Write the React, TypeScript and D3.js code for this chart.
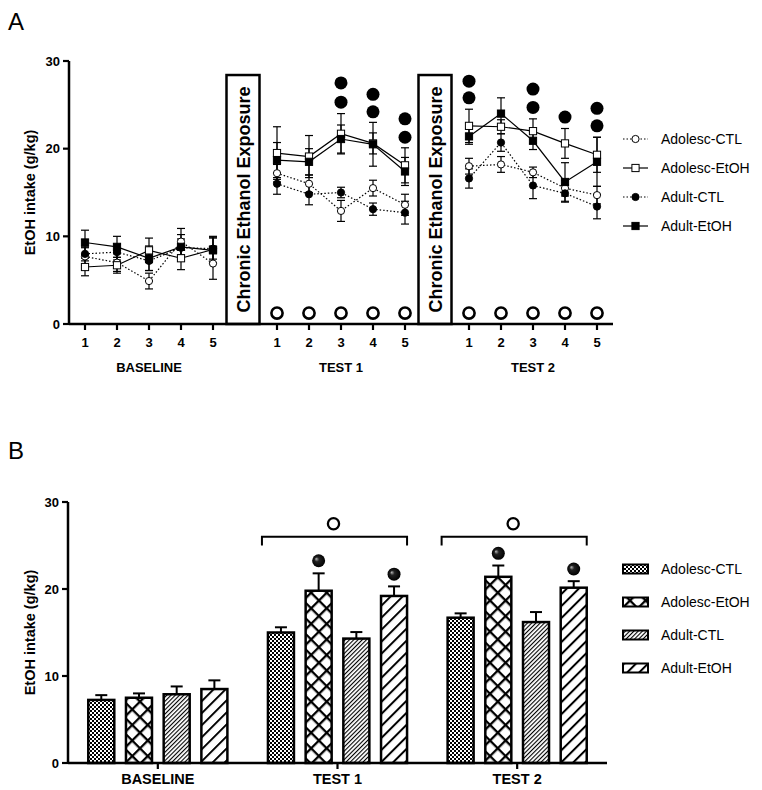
import React from "react";
import * as d3 from "d3";

const groups = ["Adolesc-CTL", "Adolesc-EtOH", "Adult-CTL", "Adult-EtOH"];
const phases = ["BASELINE", "TEST 1", "TEST 2"];
const days = [1, 2, 3, 4, 5];
const yTicks = [0, 10, 20, 30];

// Panel A: daily intake, 5 baseline days, 5 test-1 days, 5 test-2 days
const adolescCtlDaily = [7.7, 7.0, 4.9, 9.4, 6.9, 17.2, 16.0, 12.9, 15.5, 13.6, 18.0, 18.2, 17.3, 15.5, 14.7];
const adolescCtlDailyErr = [1.0, 1.0, 0.9, 1.5, 1.8, 1.0, 1.0, 1.2, 0.9, 1.2, 0.9, 0.9, 0.6, 0.9, 1.0];
const adolescEtohDaily = [6.5, 6.7, 8.4, 7.5, 8.5, 19.5, 19.1, 21.7, 20.6, 18.1, 22.6, 22.5, 22.0, 20.6, 19.3];
const adolescEtohDailyErr = [1.0, 0.9, 1.4, 1.3, 1.5, 3.0, 2.4, 2.3, 1.2, 2.0, 1.9, 0.8, 1.4, 1.7, 2.0];
const adultCtlDaily = [8.0, 8.2, 7.2, 8.7, 8.6, 16.0, 14.8, 15.0, 13.1, 12.7, 16.6, 20.7, 15.8, 14.9, 13.4];
const adultCtlDailyErr = [0.8, 0.9, 1.1, 1.0, 1.2, 1.2, 1.2, 0.6, 0.7, 1.3, 1.1, 1.0, 1.5, 1.0, 1.4];
const adultEtohDaily = [9.3, 8.8, 7.5, 8.8, 8.4, 18.7, 18.5, 21.1, 20.5, 17.4, 21.4, 24.0, 20.9, 16.2, 18.5];
const adultEtohDailyErr = [1.4, 1.2, 1.4, 1.4, 1.5, 2.0, 1.5, 1.6, 2.5, 1.6, 0.9, 1.8, 1.0, 2.2, 2.8];

// significance marks in panel A: [phase, day, height]
const sigFilledA = [
  [1, 3, 27.5], [1, 3, 25.3], [1, 4, 26.2], [1, 4, 24.2], [1, 5, 23.4], [1, 5, 21.3],
  [2, 1, 27.7], [2, 1, 25.8], [2, 3, 26.8], [2, 3, 24.7], [2, 4, 23.6], [2, 5, 24.6], [2, 5, 22.6],
];
const sigOpenA = [1, 2].flatMap((p) => days.map((d) => [p, d, 1.25]));

// Panel B: phase means
const adolescCtlMean = [7.25, 15.0, 16.7];
const adolescCtlErr = [0.55, 0.6, 0.5];
const adolescEtohMean = [7.5, 19.8, 21.4];
const adolescEtohErr = [0.5, 2.0, 1.3];
const adultCtlMean = [7.9, 14.3, 16.2];
const adultCtlErr = [0.9, 0.75, 1.15];
const adultEtohMean = [8.5, 19.2, 20.15];
const adultEtohErr = [1.0, 1.1, 0.75];

// filled marks above bars: [phase, group, height]; open marks above brackets
const sigFilledB = [[1, 1, 23.25], [1, 3, 21.7], [2, 1, 24.1], [2, 3, 22.3]];
const sigOpenB = [[1, 27.5], [2, 27.5]];
const bracketLevel = 26;

const dailyMeans = [adolescCtlDaily, adolescEtohDaily, adultCtlDaily, adultEtohDaily];
const dailyErrs = [adolescCtlDailyErr, adolescEtohDailyErr, adultCtlDailyErr, adultEtohDailyErr];
const barMeans = [adolescCtlMean, adolescEtohMean, adultCtlMean, adultEtohMean];
const barErrs = [adolescCtlErr, adolescEtohErr, adultCtlErr, adultEtohErr];
const fills = ["url(#checker)", "url(#cross)", "url(#fineDiag)", "url(#wideDiag)"];

const FONT = "'Liberation Sans', Arial, Helvetica, sans-serif";

function Marker({ g, x, y }) {
  const r = 3.6;
  const filled = g >= 2;
  const fill = filled ? "black" : "white";
  if (g % 2 === 0) return <circle cx={x} cy={y} r={r} fill={fill} stroke="black" strokeWidth={1} />;
  return <rect x={x - r} y={y - r} width={r * 2} height={r * 2} fill={fill} stroke="black" strokeWidth={1} />;
}

function PanelA() {
  const idx = (p, d) => p * 6 + (d - 1);
  const x = d3.scaleLinear().domain([0, 16]).range([85, 597]);
  const y = d3.scaleLinear().domain([0, 30]).range([324, 61]);
  const line = d3.line().x((d) => x(d[0])).y((d) => y(d[1]));

  return (
    <g>
      <text x={8} y={30} fontSize={24} fontFamily={FONT}>A</text>
      {/* Lines per phase */}
      {dailyMeans.map((vals, g) =>
        [0, 1, 2].map((p) => (
          <path
            key={`l${g}-${p}`}
            d={line(days.map((d) => [idx(p, d), vals[p * 5 + d - 1]]))}
            fill="none"
            stroke="black"
            strokeWidth={1.2}
            strokeDasharray={g % 2 === 0 ? "1.5,2" : null}
          />
        ))
      )}
      {/* Error bars */}
      {dailyMeans.map((vals, g) =>
        vals.map((v, i) => {
          const p = Math.floor(i / 5), d = (i % 5) + 1;
          const cx = x(idx(p, d));
          const e = dailyErrs[g][i];
          return (
            <g key={`e${g}-${i}`} stroke="black" strokeWidth={1.2}>
              <line x1={cx} x2={cx} y1={y(v - e)} y2={y(v + e)} />
              <line x1={cx - 4} x2={cx + 4} y1={y(v + e)} y2={y(v + e)} />
              <line x1={cx - 4} x2={cx + 4} y1={y(v - e)} y2={y(v - e)} />
            </g>
          );
        })
      )}
      {/* Points */}
      {dailyMeans.map((vals, g) =>
        vals.map((v, i) => {
          const p = Math.floor(i / 5), d = (i % 5) + 1;
          return <Marker key={`m${g}-${i}`} g={g} x={x(idx(p, d))} y={y(v)} />;
        })
      )}
      {sigFilledA.map(([p, d, v], i) => (
        <circle key={`sf${i}`} cx={x(idx(p, d))} cy={y(v)} r={6.5} fill="black" />
      ))}
      {sigOpenA.map(([p, d, v], i) => (
        <circle key={`so${i}`} cx={x(idx(p, d))} cy={y(v)} r={5.6} fill="white" stroke="black" strokeWidth={2.6} />
      ))}
      {/* Chronic exposure boxes */}
      {[5, 11].map((c) => {
        const cx = x(c) - 2;
        return (
          <g key={`box${c}`}>
            <rect x={cx - 16.5} y={y(28.4)} width={33} height={y(0) - y(28.4)} fill="white" stroke="black" strokeWidth={2.5} />
            <text
              transform={`translate(${cx + 6.5},${(y(0) + y(28.4)) / 2}) rotate(-90)`}
              textAnchor="middle"
              fontSize={18}
              fontWeight="bold"
              fontFamily={FONT}
            >
              Chronic Ethanol Exposure
            </text>
          </g>
        );
      })}
      {/* Axes */}
      <line x1={69} x2={69} y1={y(30)} y2={y(0)} stroke="black" strokeWidth={2.5} />
      <line x1={x(-0.5)} x2={x(16.5)} y1={y(0)} y2={y(0)} stroke="black" strokeWidth={2.5} />
      {yTicks.map((t) => (
        <g key={`yt${t}`}>
          <line x1={63} x2={69} y1={y(t)} y2={y(t)} stroke="black" strokeWidth={2.2} />
          <text x={60} y={y(t) + 4.5} textAnchor="end" fontSize={13} fontWeight="bold" fontFamily={FONT}>{t}</text>
        </g>
      ))}
      {[0, 1, 2].flatMap((p) =>
        days.map((d) => (
          <g key={`xt${p}-${d}`}>
            <line x1={x(idx(p, d))} x2={x(idx(p, d))} y1={y(0)} y2={y(0) + 6} stroke="black" strokeWidth={2.2} />
            <text x={x(idx(p, d))} y={y(0) + 23} textAnchor="middle" fontSize={13} fontWeight="bold" fontFamily={FONT}>{d}</text>
          </g>
        ))
      )}
      {phases.map((ph, p) => (
        <text key={ph} x={x(idx(p, 3))} y={y(0) + 48} textAnchor="middle" fontSize={13} fontWeight="bold" fontFamily={FONT}>{ph}</text>
      ))}
      <text transform={`translate(35,${(y(0) + y(30)) / 2}) rotate(-90)`} textAnchor="middle" fontSize={14.5} fontWeight="bold" fontFamily={FONT}>
        EtOH intake (g/kg)
      </text>
      {/* Legend */}
      {groups.map((gname, g) => {
        const ly = 139 + g * 29;
        return (
          <g key={gname}>
            <line x1={623} x2={648} y1={ly} y2={ly} stroke="black" strokeWidth={1.2} strokeDasharray={g % 2 === 0 ? "1.5,2" : null} />
            <Marker g={g} x={635.5} y={ly} />
            <text x={661} y={ly + 5} fontSize={14} fontFamily={FONT}>{gname}</text>
          </g>
        );
      })}
    </g>
  );
}

function PanelB() {
  const x = d3.scaleBand().domain(phases).range([68, 607]);
  const inner = d3.scaleBand().domain(groups).range([-75.4, 75.4]).paddingInner(0.31).paddingOuter(0.155);
  const y = d3.scaleLinear().domain([0, 30]).range([763, 502]);
  const bw = inner.bandwidth();
  const cen = (p) => x(phases[p]) + x.bandwidth() / 2;
  const barX = (p, g) => cen(p) + inner(groups[g]);

  return (
    <g>
      <text x={8} y={459} fontSize={24} fontFamily={FONT}>B</text>
      {barMeans.map((vals, g) =>
        vals.map((v, p) => {
          const bx = barX(p, g);
          const e = barErrs[g][p];
          return (
            <g key={`b${g}-${p}`}>
              <line x1={bx + bw / 2} x2={bx + bw / 2} y1={y(v)} y2={y(v + e)} stroke="black" strokeWidth={2} />
              <line x1={bx + bw / 2 - 6} x2={bx + bw / 2 + 6} y1={y(v + e)} y2={y(v + e)} stroke="black" strokeWidth={2} />
              <rect x={bx} y={y(v)} width={bw} height={y(0) - y(v)} fill={fills[g]} stroke="black" strokeWidth={2.5} />
            </g>
          );
        })
      )}
      {sigFilledB.map(([p, g, v], i) => (
        <circle key={`bf${i}`} cx={barX(p, g) + bw / 2} cy={y(v)} r={6.5} fill="url(#gloss)" />
      ))}
      {sigOpenB.map(([p, v]) => {
        const left = barX(p, 0) - 6;
        const right = barX(p, 3) + bw;
        return (
          <g key={`br${p}`}>
            <path
              d={`M${left},${y(bracketLevel - 1)}V${y(bracketLevel)}H${right}V${y(bracketLevel - 1)}`}
              fill="none"
              stroke="black"
              strokeWidth={2}
            />
            <circle cx={(left + right) / 2 - 1} cy={y(v)} r={5.6} fill="white" stroke="black" strokeWidth={2.3} />
          </g>
        );
      })}
      <line x1={68} x2={68} y1={y(30)} y2={y(0)} stroke="black" strokeWidth={2.5} />
      <line x1={68} x2={607} y1={y(0)} y2={y(0)} stroke="black" strokeWidth={2.5} />
      {yTicks.map((t) => (
        <g key={`byt${t}`}>
          <line x1={62} x2={68} y1={y(t)} y2={y(t)} stroke="black" strokeWidth={2.2} />
          <text x={59} y={y(t) + 4.5} textAnchor="end" fontSize={13} fontWeight="bold" fontFamily={FONT}>{t}</text>
        </g>
      ))}
      {phases.map((ph, p) => (
        <g key={`bx${ph}`}>
          <line x1={cen(p)} x2={cen(p)} y1={y(0)} y2={y(0) + 6} stroke="black" strokeWidth={2.2} />
          <text x={cen(p)} y={y(0) + 21} textAnchor="middle" fontSize={14.5} fontWeight="bold" fontFamily={FONT}>{ph}</text>
        </g>
      ))}
      <text transform={`translate(35,${(y(0) + y(30)) / 2}) rotate(-90)`} textAnchor="middle" fontSize={14.5} fontWeight="bold" fontFamily={FONT}>
        EtOH intake (g/kg)
      </text>
      {groups.map((gname, g) => {
        const ly = 569 + g * 33;
        return (
          <g key={`bl${gname}`}>
            <rect x={623} y={ly - 4.5} width={25} height={9} fill={fills[g]} stroke="black" strokeWidth={2} />
            <text x={661} y={ly + 5} fontSize={14} fontFamily={FONT}>{gname}</text>
          </g>
        );
      })}
    </g>
  );
}

export default function App() {
  return (
    <svg width={762} height={790} style={{ position: "absolute", left: 0, top: 0, background: "white" }}>
      <defs>
        <pattern id="checker" patternUnits="userSpaceOnUse" width={4} height={4}>
          <rect width={4} height={4} fill="white" />
          <rect width={2} height={2} fill="black" />
          <rect x={2} y={2} width={2} height={2} fill="black" />
        </pattern>
        <pattern id="cross" patternUnits="userSpaceOnUse" width={11} height={11} patternTransform="rotate(45)">
          <rect width={11} height={11} fill="white" />
          <line x1={0} x2={0} y1={0} y2={11} stroke="black" strokeWidth={4.6} />
          <line x1={0} x2={11} y1={0} y2={0} stroke="black" strokeWidth={4.6} />
        </pattern>
        <pattern id="fineDiag" patternUnits="userSpaceOnUse" width={3} height={3} patternTransform="rotate(45)">
          <rect width={3} height={3} fill="white" />
          <line x1={0} x2={0} y1={0} y2={3} stroke="black" strokeWidth={2.2} />
        </pattern>
        <pattern id="wideDiag" patternUnits="userSpaceOnUse" width={8.5} height={8.5} patternTransform="rotate(45)">
          <rect width={8.5} height={8.5} fill="white" />
          <line x1={0} x2={0} y1={0} y2={8.5} stroke="black" strokeWidth={4} />
        </pattern>
        <radialGradient id="gloss" cx="50%" cy="50%" r="50%" fx="30%" fy="35%">
          <stop offset="0%" stopColor="#bbb" />
          <stop offset="35%" stopColor="#222" />
          <stop offset="100%" stopColor="black" />
        </radialGradient>
      </defs>
      <PanelA />
      <PanelB />
    </svg>
  );
}
